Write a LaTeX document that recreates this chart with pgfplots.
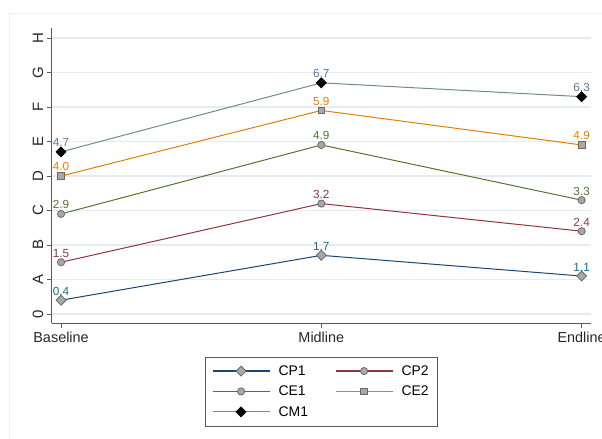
\documentclass[border=0pt]{standalone}
\usepackage{pgfplots}
\pgfplotsset{compat=1.18}
\usepackage{fontspec}
\setmainfont{Liberation Sans}
\definecolor{snavy}{RGB}{26,71,111}
\definecolor{smaroon}{RGB}{144,53,59}
\definecolor{sgreen}{RGB}{85,117,47}
\definecolor{sorange}{RGB}{227,126,0}
\definecolor{steal}{RGB}{110,142,132}
\definecolor{mgray}{RGB}{168,168,168}
\definecolor{medge}{RGB}{105,105,105}
\definecolor{gridc}{RGB}{230,235,243}
\definecolor{axc}{RGB}{90,90,90}
\begin{document}
\begin{tikzpicture}
\begin{axis}[
  scale only axis,
  width=539.3bp, height=295.3bp,
  xmin=-0.036, xmax=2.036,
  ymin=-0.27, ymax=8.29,
  axis x line*=bottom, axis y line*=left,
  axis line style={draw=axc, line width=0.9bp},
  xtick={0,1,2}, xticklabels={Baseline,Midline,Endline},
  ytick={0,1,2,3,4,5,6,7,8}, yticklabels={0,A,B,C,D,E,F,G,H},
  tick align=outside, major tick length=5bp,
  tick style={draw=axc, line width=0.8bp},
  ymajorgrids, grid style={draw=gridc, line width=1.2bp},
  xticklabel style={font=\fontsize{14.5}{16}\selectfont, text=black!85},
  yticklabel style={font=\fontsize{15}{16}\selectfont, text=black!85, rotate=90, anchor=south},
  /pgf/number format/assume math mode=true,
  nodes near coords={\pgfmathprintnumber[fixed,fixed zerofill,precision=1]{\pgfplotspointmeta}},
  every node near coord/.style={anchor=south, inner sep=1bp, yshift=3.5bp, font=\fontsize{11.8}{13}\selectfont},
  every axis plot/.append style={line width=1bp},
  legend style={at={(0.5,-0.114)}, anchor=north, legend columns=2,
    draw=axc, font=\fontsize{14}{16}\selectfont,
    inner xsep=6.5bp, inner ysep=4bp,
    /tikz/every even column/.append style={column sep=25bp}},
  legend cell align=left,
  legend image code/.code={%
    \path[draw=none,fill=none] (0bp,-10.2bp) rectangle (64bp,10.2bp);%
    \draw[mark=none, line width=1.2bp] (0bp,0.3bp) -- (57bp,0.3bp);%
    \path[draw=none] plot coordinates {(28.5bp,0.3bp)};},
]
\addplot[color=snavy, mark=square*, mark size=3.5bp, mark options={rotate=45, fill=mgray, draw=medge, line width=0.8bp}, every node near coord/.append style={text=snavy!80!cyan}]
  coordinates {(0,0.4) (1,1.7) (2,1.1)};
\addlegendentry{CP1}
\addplot[color=smaroon, mark=*, mark size=3.6bp, mark options={fill=mgray, draw=medge, line width=0.8bp}, every node near coord/.append style={text=smaroon}]
  coordinates {(0,1.5) (1,3.2) (2,2.4)};
\addlegendentry{CP2}
\addplot[color=sgreen, mark=*, mark size=3.6bp, mark options={fill=mgray, draw=medge, line width=0.8bp}, every node near coord/.append style={text=sgreen}]
  coordinates {(0,2.9) (1,4.9) (2,3.3)};
\addlegendentry{CE1}
\addplot[color=sorange, mark=square*, mark size=3.4bp, mark options={fill=mgray, draw=medge, line width=0.8bp}, every node near coord/.append style={text=sorange}]
  coordinates {(0,4.0) (1,5.9) (2,4.9)};
\addlegendentry{CE2}
\addplot[color=steal, mark=square*, mark size=3.5bp, mark options={rotate=45, fill=black, draw=black, line width=0.8bp}, every node near coord/.append style={text=steal!85!blue}]
  coordinates {(0,4.7) (1,6.7) (2,6.3)};
\addlegendentry{CM1}
\end{axis}
\draw[draw=black!7, line width=0.6bp] ([xshift=-42.7bp,yshift=310.3bp]current axis.south west) rectangle ([xshift=570bp,yshift=-140bp]current axis.south west);
\pgfresetboundingbox
\path[use as bounding box] ([xshift=-51.7bp,yshift=-115.7bp]current axis.south west) rectangle ([xshift=550.3bp,yshift=323.3bp]current axis.south west);
\end{tikzpicture}
\end{document}
